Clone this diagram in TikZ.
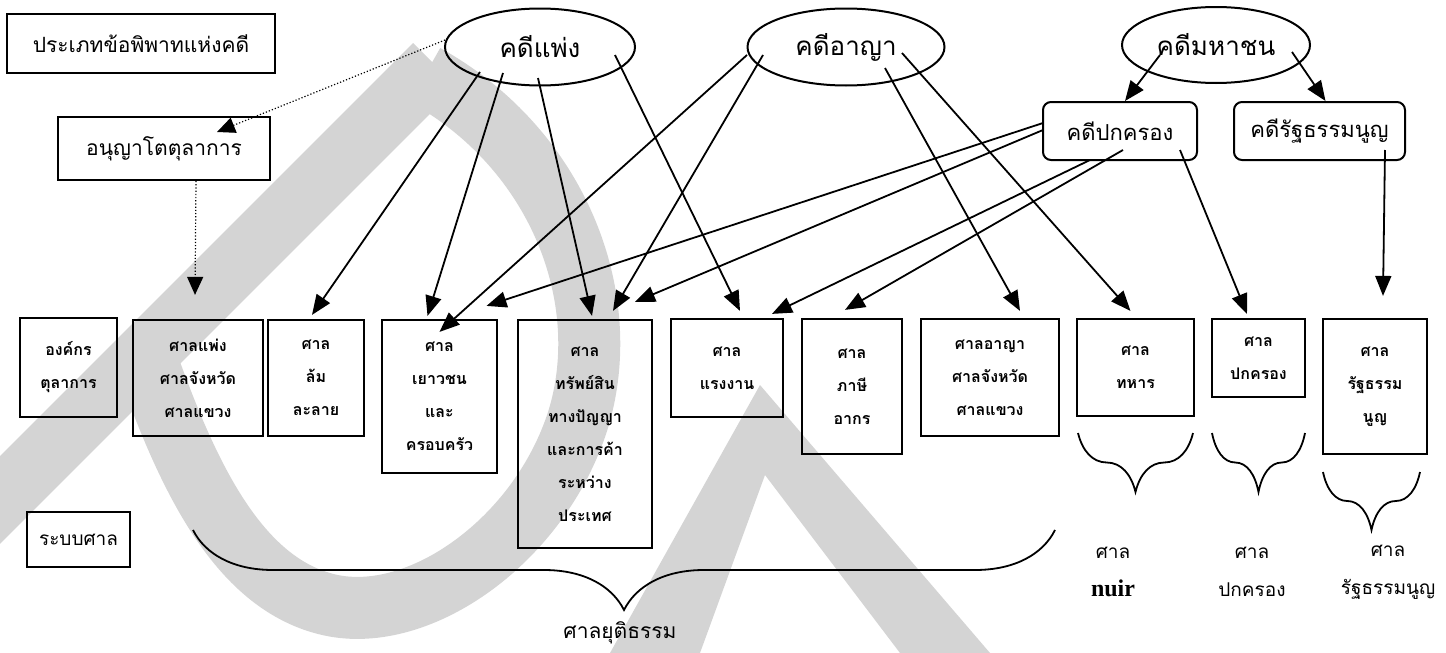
\documentclass[tikz,border=0pt]{standalone}
\usepackage{fontspec}
\newfontfamily\thai[Script=Thai]{Loma}
\newfontfamily\latin{Liberation Serif}
\usetikzlibrary{arrows.meta,calc,shapes.geometric,decorations.pathreplacing}

\tikzset{
  case/.style={draw, ellipse, line width=1pt, font=\thai\fontsize{13}{15}\selectfont},
  head/.style={draw, line width=1pt, font=\thai\fontsize{10.5}{13}\selectfont},
  sub/.style={draw, rounded corners=4pt, line width=1pt, font=\thai\fontsize{11}{13}\selectfont},
  court/.style={draw, line width=1.1pt, inner sep=0pt, align=center, font=\thai\bfseries\fontsize{8}{16.5}\selectfont},
  note/.style={inner sep=0pt, align=center, font=\thai\fontsize{9.5}{19}\selectfont},
  arr/.style={line width=0.9pt, -{Triangle[length=10pt,width=8pt]}},
  dot/.style={densely dotted, line width=0.6pt, -{Triangle[length=9pt,width=8pt]}},
  brc/.style={decorate, decoration={brace, mirror, amplitude=#1}, line width=0.9pt},
  wm/.style={draw=black!17, line width=31pt}
}

\begin{document}
\begin{tikzpicture}[x=0.5pt, y=-0.5pt]
  \useasboundingbox (0,0) rectangle (1446,653);

  % watermark behind the chart
  \begin{scope}
    \clip (0,0) rectangle (1446,653);
    \draw[wm] (-30,530) -- (435,65);
    \draw[wm] (425,75) .. controls (560,150) and (615,300) .. (578,420)
      .. controls (540,540) and (420,625) .. (330,605)
      .. controls (240,585) and (190,480) .. (150,370);
    \fill[black!17] (760,385) -- (610,653) -- (700,653) -- (765,475)
      -- (900,653) -- (990,653) -- cycle;
  \end{scope}

  % kinds of cases
  \node[head, minimum width=134pt, minimum height=29.5pt] (type) at (141,43.5) {ประเภทข้อพิพาทแห่งคดี};
  \node[head, minimum width=106pt, minimum height=31.5pt] (arb) at (164,148.5) {อนุญาโตตุลาการ};
  \node[case, minimum width=95pt, minimum height=38.5pt] (civ) at (540,47) {คดีแพ่ง};
  \node[case, minimum width=98.5pt, minimum height=38.5pt] (crim) at (846,47) {คดีอาญา};
  \node[case, minimum width=94pt, minimum height=38pt] (pub) at (1216,45) {คดีมหาชน};
  \node[sub, minimum width=77pt, minimum height=29pt] (adm) at (1120,131) {คดีปกครอง};
  \node[sub, minimum width=85.5pt, minimum height=29pt] (const) at (1319.5,131) {คดีรัฐธรรมนูญ};

  % courts
  \node[court, minimum width=48.5pt, minimum height=49.5pt] (org) at (68.5,367.5) {องค์กร\\ตุลาการ};
  \node[court, minimum width=65pt, minimum height=58pt] (civct) at (198,378) {ศาลแพ่ง\\ศาลจังหวัด\\ศาลแขวง};
  \node[court, minimum width=48pt, minimum height=58pt] (bkr) at (316,378) {ศาล\\ล้ม\\ละลาย};
  \node[court, minimum width=57.5pt, minimum height=76.5pt] (juv) at (439.5,396.5) {ศาล\\เยาวชน\\และ\\ครอบครัว};
  \node[court, minimum width=67pt, minimum height=114pt] (ip) at (585,434) {ศาล\\ทรัพย์สิน\\ทางปัญญา\\และการค้า\\ระหว่าง\\ประเทศ};
  \node[court, minimum width=56pt, minimum height=49pt] (lab) at (727,368) {ศาล\\แรงงาน};
  \node[court, minimum width=50pt, minimum height=67.5pt] (tax) at (852,386.5) {ศาล\\ภาษี\\อากร};
  \node[court, minimum width=69pt, minimum height=58.5pt] (crimct) at (990,377.5) {ศาลอาญา\\ศาลจังหวัด\\ศาลแขวง};
  \node[court, minimum width=58.5pt, minimum height=48.5pt] (mil) at (1135.5,367.5) {ศาล\\ทหาร};
  \node[court, minimum width=46.5pt, minimum height=39pt] (admct) at (1258.5,358) {ศาล\\ปกครอง};
  \node[court, minimum width=52pt, minimum height=67.5pt] (conct) at (1375,386.5) {ศาล\\รัฐธรรม\\นูญ};
  \node[head, minimum width=51.5pt, minimum height=27.5pt, font=\thai\fontsize{9.5}{12}\selectfont] (sys) at (78.5,539.5) {ระบบศาล};

  % civil cases
  \draw[arr] ($(civ)+(-60,25)$) -- ($(bkr.north)+(-4,-4)$);
  \draw[arr] ($(civ)+(-37,26)$) -- ($(juv.north)+(-12,-3)$);
  \draw[arr] ($(civ)+(-2,31)$) -- ($(ip.north)+(7,-3)$);
  \draw[arr] ($(civ)+(75,8)$) -- ($(lab.north)+(13,-7)$);
  \draw[dot] ($(civ)+(-95,-7)$) -- ($(arb.north)+(53,16)$);
  \draw[dot] ($(arb.south)+(32,0)$) -- ($(civct.north)+(-3,-24)$);
  % criminal cases
  \draw[arr] ($(crim)+(-99,8)$) -- ($(juv.north)+(0,13)$);
  \draw[arr] ($(crim)+(-83,8)$) -- ($(ip.north)+(28,-8)$);
  \draw[arr] ($(crim)+(39,21)$) -- ($(crimct.north)+(30,-7)$);
  \draw[arr] ($(crim)+(56,6)$) -- ($(mil.north)+(-5,-7)$);
  % public law cases
  \draw[arr] ($(pub)+(-56,10)$) -- ($(adm.north)+(5,0)$);
  \draw[arr] ($(pub)+(76,7)$) -- ($(const.north)+(6,0)$);
  \draw[arr] ($(adm)+(-77,-8)$) -- ($(juv.north)+(47,-13)$);
  \draw[arr] ($(adm)+(-77,-1)$) -- ($(ip.north)+(50,-17)$);
  \draw[arr] ($(adm)+(-30,29)$) -- ($(lab.north)+(45,-4)$);
  \draw[arr] ($(adm)+(3,19)$) -- ($(tax.north)+(-7,-8)$);
  \draw[arr] ($(adm)+(60,19)$) -- ($(admct.north)+(-11.5,-4)$);
  \draw[arr] ($(const)+(65.5,19)$) -- ($(conct.north)+(8,-22)$);

  % court groups
  \draw[brc=29.5pt] (1078,433) -- (1193,433);
  \draw[brc=29.5pt] (1212,433) -- (1305,433);
  \draw[brc=29pt] (1323,472) -- (1420,472);
  \draw[brc=40pt] (193,530) -- (1055,530);
  \node[note] (lmil) at (1113,572) {ศาล\\{\latin\bfseries\fontsize{12}{19}\selectfont nuir}};
  \node[note] (ladm) at (1252,572) {ศาล\\ปกครอง};
  \node[note] (lcon) at (1388,572) {ศาล\\รัฐธรรมนูญ};
  \node[note, font=\thai\fontsize{10.5}{12}\selectfont] (ljus) at (620,633) {ศาลยุติธรรม};
\end{tikzpicture}
\end{document}
